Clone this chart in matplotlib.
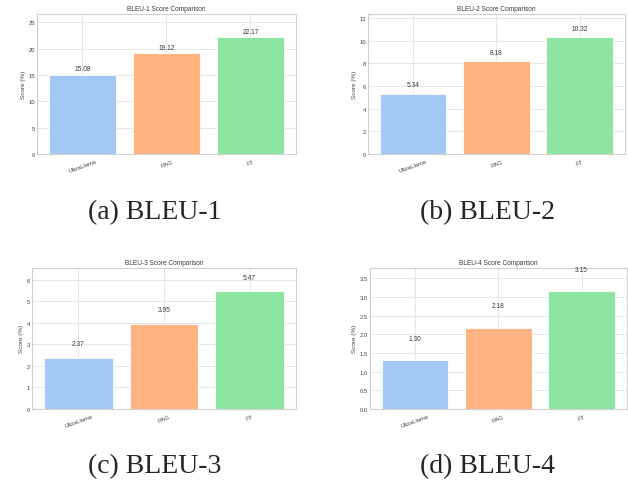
import matplotlib
matplotlib.use("Agg")
import matplotlib.pyplot as plt

# ======================
# DATA
# ======================
models = ["UlizaLlama", "RAG", "FT"]
bleu1 = [15.08, 19.12, 22.17]
bleu2 = [5.34, 8.18, 10.32]
bleu3 = [2.37, 3.95, 5.47]
bleu4 = [1.30, 2.18, 3.15]
metric_names = ["BLEU-1", "BLEU-2", "BLEU-3", "BLEU-4"]
captions = ["(a) BLEU-1", "(b) BLEU-2", "(c) BLEU-3", "(d) BLEU-4"]

colors = ["#a1c9f4", "#ffb482", "#8de5a1"]

plt.style.use("seaborn-v0_8-whitegrid")
fig = plt.figure(figsize=(6.28, 4.81), dpi=100)

# axes boxes in figure fraction [left, bottom, width, height]
boxes = [
    [0.059, 0.678, 0.412, 0.291],
    [0.586, 0.678, 0.409, 0.291],
    [0.051, 0.148, 0.420, 0.293],
    [0.589, 0.148, 0.409, 0.293],
]
caption_pos = [(0.247, 0.558), (0.776, 0.558), (0.247, 0.029), (0.776, 0.029)]

for i, vals in enumerate([bleu1, bleu2, bleu3, bleu4]):
    ax = fig.add_axes(boxes[i])
    bars = ax.bar(models, vals, color=colors, edgecolor="white", linewidth=0.6)
    for b, v in zip(bars, vals):
        ax.text(b.get_x() + b.get_width() / 2, v + 0.5, f"{v:.2f}",
                ha="center", va="bottom", fontsize=4.8, color="#3a3a3a")
    ax.set_ylim(0, max(vals) * 1.2)
    ax.set_title(f"{metric_names[i]} Score Comparison", fontsize=4.7,
                 color="#3a3a3a", pad=2.5)
    ax.set_ylabel("Score (%)", fontsize=4.6, color="#444444", labelpad=2)
    ax.tick_params(axis="y", labelsize=4.2, colors="#444444", pad=1.5)
    ax.tick_params(axis="x", labelsize=4.2, colors="#444444", pad=3.5)
    for lab in ax.get_xticklabels():
        lab.set_rotation(20)
    for sp in ax.spines.values():
        sp.set_color("#d0d0d0")
        sp.set_linewidth(0.8)
    ax.grid(True, color="#e6e6e6", linewidth=0.7)
    ax.set_axisbelow(True)

    fig.text(caption_pos[i][0], caption_pos[i][1], captions[i],
             fontsize=20, family="Liberation Serif", ha="center", va="center")

plt.savefig("out.png", dpi=100)
